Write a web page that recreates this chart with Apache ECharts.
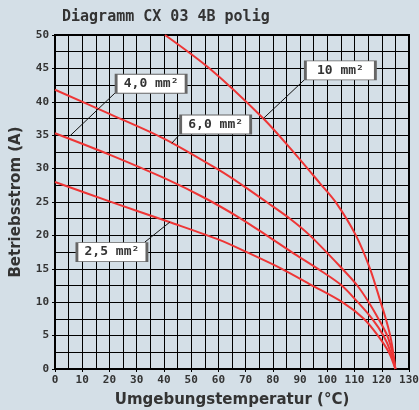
<!DOCTYPE html>
<html><head><meta charset="utf-8">
<script src="https://cdn.jsdelivr.net/npm/echarts@6/dist/echarts.min.js"></script>
<style>html,body{margin:0;padding:0;background:#d4dfe7;}#c{width:419px;height:410px;}</style>
</head><body><div id="c"></div>
<script>
// ---- data ----
const seriesNames = ['2,5 mm²', '4,0 mm²', '6,0 mm²', '10 mm²'];
const t25  = [0, 20, 42, 60.6, 70.4, 83.3, 94, 105.5, 113.5, 118.6, 122.6, 125];
const i25  = [28, 25.1, 22, 19.3, 17.5, 15, 12.6, 10, 7.5, 5, 2.5, 0];
const t40  = [0, 20, 40, 55, 67.9, 77.7, 86.9, 98, 105.3, 111.2, 116.5, 120.6, 123.3, 125];
const i40  = [35.3, 32.1, 28.6, 25.6, 22.6, 20, 17.5, 14.6, 12.5, 10, 7.5, 5, 2.5, 0];
const t60  = [0, 20, 40, 60.6, 68.9, 77.7, 86.3, 93.6, 105.5, 111, 115.2, 118.8, 122, 123.9, 125];
const i60  = [41.8, 38.2, 34.5, 29.7, 27.5, 25, 22.5, 20, 15, 12.5, 10, 7.5, 5, 2.5, 0];
const t100 = [40.4, 57, 76.5, 86.9, 97.3, 103.2, 110.5, 115.7, 119.6, 121.5, 123.1, 124.2, 125];
const i100 = [50, 44.9, 37.5, 32.8, 27.8, 24.9, 20, 15, 10, 7.5, 5, 2.5, 0];
const xTicks = [0, 130, 10];
const yTicks = [0, 50, 5];
// annotation anchors in data coordinates: label centre, leader start, leader end
const labelAt  = [[20.9, 17.5], [35.3, 42.7], [59, 36.6], [104.8, 44.7]];
const leaderA  = [[33, 19], [22, 41.3], [45.3, 34.9], [91.6, 43.3]];
const leaderB  = [[42.2, 22], [5.5, 34.9], [42.9, 33.8], [76.5, 37.5]];

const curves = [[t25, i25], [t40, i40], [t60, i60], [t100, i100]];
const mono = 'DejaVu Sans Mono';
const txt = '#333';

const series = curves.map((c, k) => ({
  name: seriesNames[k],
  type: 'line',
  data: c[0].map((t, j) => [t, c[1][j]]),
  smooth: 0.3,
  showSymbol: false,
  symbol: 'none',
  lineStyle: { color: '#ee3535', width: 2 },
  z: 3,
  markLine: {
    silent: true, symbol: 'none', animation: false,
    label: { show: false },
    lineStyle: { color: '#111', width: 1, type: 'solid' },
    data: [[{ coord: leaderA[k] }, { coord: leaderB[k] }]]
  },
  markPoint: {
    silent: true, animation: false,
    symbol: 'rect', symbolSize: [70, 19],
    itemStyle: { color: '#fff', borderColor: '#666', borderWidth: 1.5 },
    label: { show: true, position: 'inside', color: txt, fontFamily: mono, fontWeight: 'bold', fontSize: 13,
             formatter: seriesNames[k] },
    data: [{ coord: labelAt[k] }]
  }
}));

const chart = echarts.init(document.getElementById('c'), null, { renderer: 'canvas' });
chart.setOption({
  backgroundColor: '#d4dfe7',
  animation: false,
  title: { text: 'Diagramm CX 03 4B polig', left: 57, top: 5,
           textStyle: { fontFamily: mono, fontWeight: 'bold', fontSize: 15, color: txt } },
  grid: { left: 55, right: 10, top: 35, bottom: 41, outerBoundsMode: 'none', containLabel: false,
          show: true, borderColor: '#000', borderWidth: 2, backgroundColor: 'transparent' },
  xAxis: {
    type: 'value', min: xTicks[0], max: xTicks[1], interval: xTicks[2],
    name: 'Umgebungstemperatur (°C)', nameLocation: 'middle', nameGap: 24,
    nameTextStyle: { fontFamily: 'DejaVu Sans', fontWeight: 'bold', fontSize: 15, color: txt },
    axisLine: { show: true, lineStyle: { color: '#000', width: 2 } },
    axisTick: { show: true, length: 3, lineStyle: { color: '#000', width: 1 } },
    axisLabel: { fontFamily: mono, fontWeight: 'bold', fontSize: 11, color: txt, margin: 6 },
    splitLine: { show: true, lineStyle: { color: '#000', width: 1 } },
    minorTick: { show: false, splitNumber: 2 },
    minorSplitLine: { show: true, lineStyle: { color: '#000', width: 1 } }
  },
  yAxis: {
    type: 'value', min: yTicks[0], max: yTicks[1], interval: yTicks[2],
    name: 'Betriebsstrom (A)', nameLocation: 'middle', nameGap: 31,
    nameTextStyle: { fontFamily: 'DejaVu Sans', fontWeight: 'bold', fontSize: 15, color: txt },
    axisLine: { show: true, lineStyle: { color: '#000', width: 2 } },
    axisTick: { show: true, length: 3, lineStyle: { color: '#000', width: 1 } },
    axisLabel: { fontFamily: mono, fontWeight: 'bold', fontSize: 11, color: txt, margin: 6 },
    splitLine: { show: true, lineStyle: { color: '#000', width: 1 } },
    minorTick: { show: false, splitNumber: 2 },
    minorSplitLine: { show: true, lineStyle: { color: '#000', width: 1 } }
  },
  series: series
});
</script>
</body></html>
